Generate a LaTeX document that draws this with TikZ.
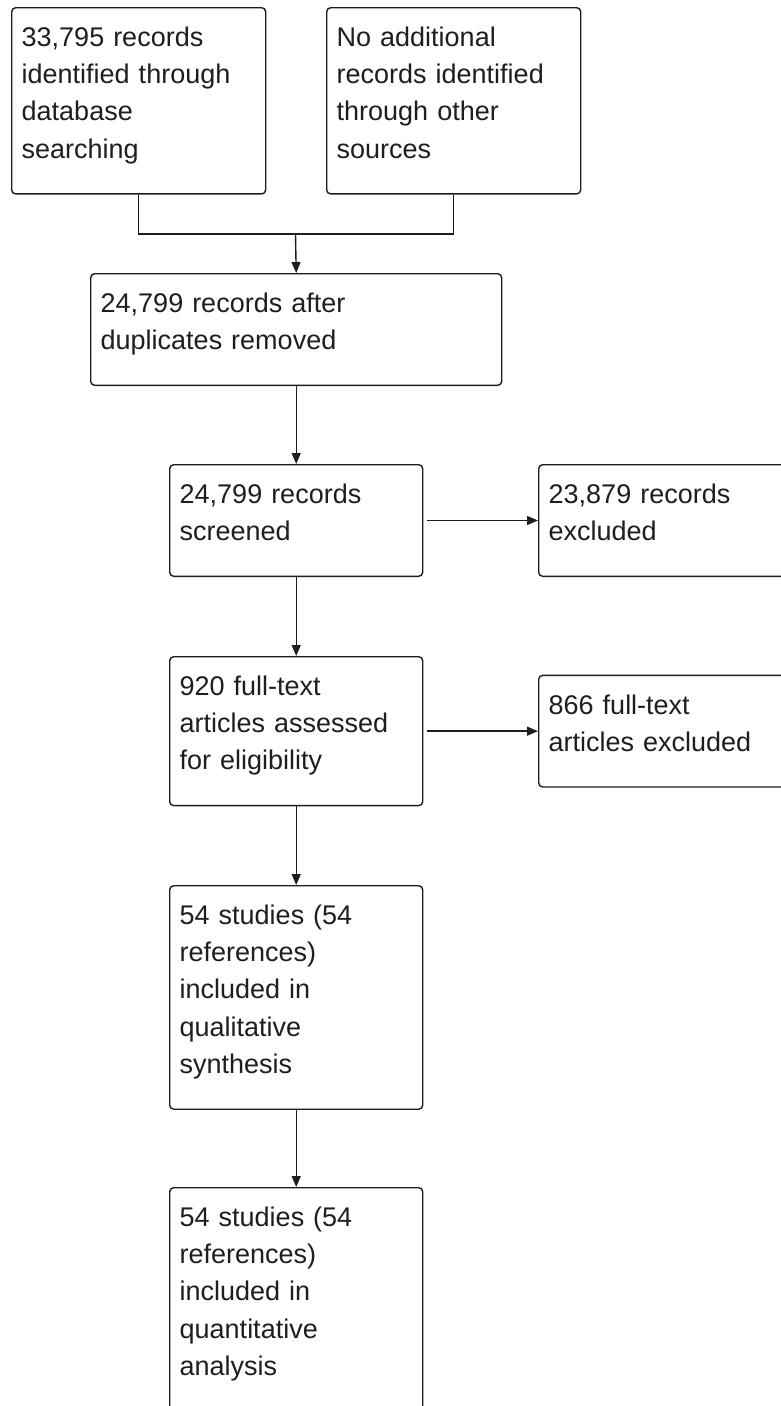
\documentclass[tikz,border=0pt]{standalone}
\usepackage{fontspec}
\setmainfont{Liberation Sans}
\usetikzlibrary{arrows.meta}
\definecolor{trait}{RGB}{30,30,30}
\newcommand\etai{\rule[-17.15pt]{0pt}{37.3pt}}

\begin{document}
\begin{tikzpicture}[x=1pt,y=-1pt]
\tikzset{boite/.style={draw=trait, text=trait, line width=1.4pt, rounded corners=4pt, anchor=north west, align=left, inner xsep=10pt, inner ysep=18.5pt, text width=233pt, font=\fontsize{27pt}{37.3pt}\selectfont, execute at begin node=\etai, execute at end node=\etai}}
\tikzset{fleche/.style={draw=trait, line width=1.4pt, -{Triangle[length=11pt,width=9pt]}}}
\clip (0,0) rectangle (781,1406);
\fill[white] (0,0) rectangle (781,1406);
\node[boite, text width=234pt] (E1) at (11,7) {33,795 records\\identified through\\database\\searching};
\node[boite, text width=234pt] (E2) at (326,7) {No additional\\records identified\\through other\\sources};
\node[boite, text width=391pt] (E3) at (90,273) {24,799 records after\\duplicates removed};
\node[boite] (E4) at (169,464) {24,799 records\\screened};
\node[boite, anchor=west] (E5) at (538,0 |- E4.west) {23,879 records\\excluded};
\node[boite] (E6) at (169,656) {920 full-text\\articles assessed\\for eligibility};
\node[boite, anchor=west] (E7) at (538,0 |- E6.west) {866 full-text\\articles excluded};
\node[boite] (E8) at (169,885) {54 studies (54\\references)\\included in\\qualitative\\synthesis};
\node[boite] (E9) at (169,1187) {54 studies (54\\references)\\included in\\quantitative\\analysis};
\coordinate (J) at (295.5,234);
\draw[draw=trait, line width=1.4pt] (E1.south) |- (J) -| (E2.south);
\draw[fleche] (J) -- (E3.north);
\draw[fleche] (E3.south) -- (E4.north);
\draw[fleche, shorten <=4pt] (E4.east) -- (E5.west);
\draw[fleche] (E4.south) -- (E6.north);
\draw[fleche, shorten <=4pt] (E6.east) -- (E7.west);
\draw[fleche] (E6.south) -- (E8.north);
\draw[fleche] (E8.south) -- (E9.north);
\end{tikzpicture}
\end{document}
